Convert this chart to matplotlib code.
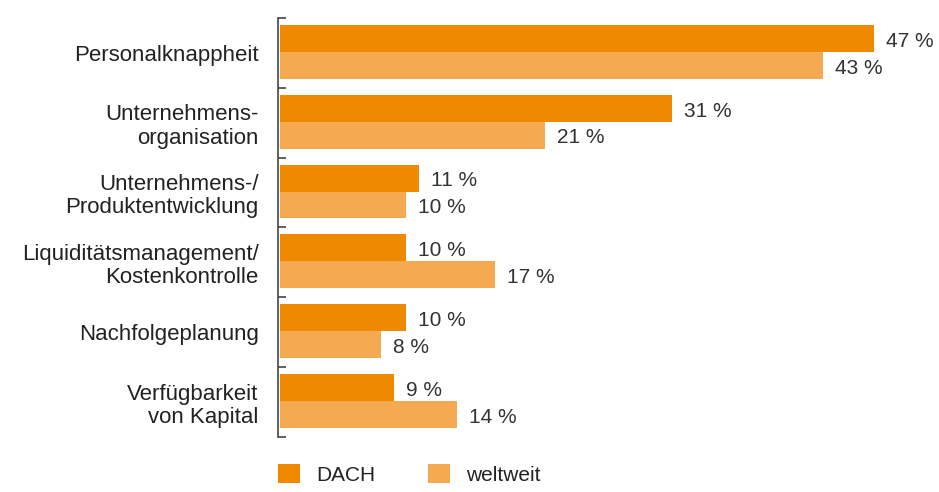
import matplotlib.pyplot as plt
from matplotlib.patches import Patch

plt.rcParams['font.family'] = ['Liberation Sans', 'DejaVu Sans']

categories = [
    "Personalknappheit",
    "Unternehmens-\norganisation",
    "Unternehmens-/\nProduktentwicklung",
    "Liquiditätsmanagement/\nKostenkontrolle",
    "Nachfolgeplanung",
    "Verfügbarkeit\nvon Kapital",
]
dach = [47, 31, 11, 10, 10, 9]
weltweit = [43, 21, 10, 17, 8, 14]
series_names = ["DACH", "weltweit"]

c_dach = "#EF8A00"
c_welt = "#F5AA52"
text_col = "#222222"

fig = plt.figure(figsize=(9.39, 4.92), dpi=100)
ax = fig.add_axes([278 / 939, 1 - 437 / 492, 661 / 939, 419 / 492])

bh = 0.385
for i in range(len(categories)):
    y1 = i + 0.1 + bh / 2
    y2 = i + 0.1 + bh + bh / 2
    ax.barh(y1, dach[i], height=bh, color=c_dach, left=0.15)
    ax.barh(y2, weltweit[i], height=bh, color=c_welt, left=0.15)
    ax.text(dach[i] + 1.1, y1 + 0.04, f"{dach[i]} %", va="center", ha="left",
            fontsize=15, color="#333333")
    ax.text(weltweit[i] + 1.1, y2 + 0.04, f"{weltweit[i]} %", va="center", ha="left",
            fontsize=15, color="#333333")

ax.set_xlim(0, 52.3)
ax.set_ylim(len(categories), 0)

# boundary ticks on the spine, labels at group centres
ax.set_yticks(range(len(categories) + 1))
ax.set_yticklabels([])
ax.tick_params(axis="y", which="major", direction="in", length=6, width=1.2,
               color="#444444")
ax.set_yticks([i + 0.5 for i in range(len(categories))], minor=True)
ax.set_yticklabels(categories, minor=True, fontsize=16, color=text_col,
                   linespacing=1.15)
ax.tick_params(axis="y", which="minor", length=0, pad=14)
for lbl in ax.get_yticklabels(minor=True):
    lbl.set_horizontalalignment("right")

ax.set_xticks([])
for s in ["top", "right", "bottom"]:
    ax.spines[s].set_visible(False)
ax.spines["left"].set_color("#444444")
ax.spines["left"].set_linewidth(1.2)

handles = [Patch(facecolor=c_dach), Patch(facecolor=c_welt)]
ax.legend(handles, series_names, loc="center left", bbox_to_anchor=(0, -0.09),
          ncol=2, frameon=False, fontsize=15, handlelength=1.05, handleheight=1.0,
          handletextpad=0.8, columnspacing=2.5, borderpad=0, borderaxespad=0,
          labelcolor=text_col)

fig.savefig("out.png", dpi=100)
